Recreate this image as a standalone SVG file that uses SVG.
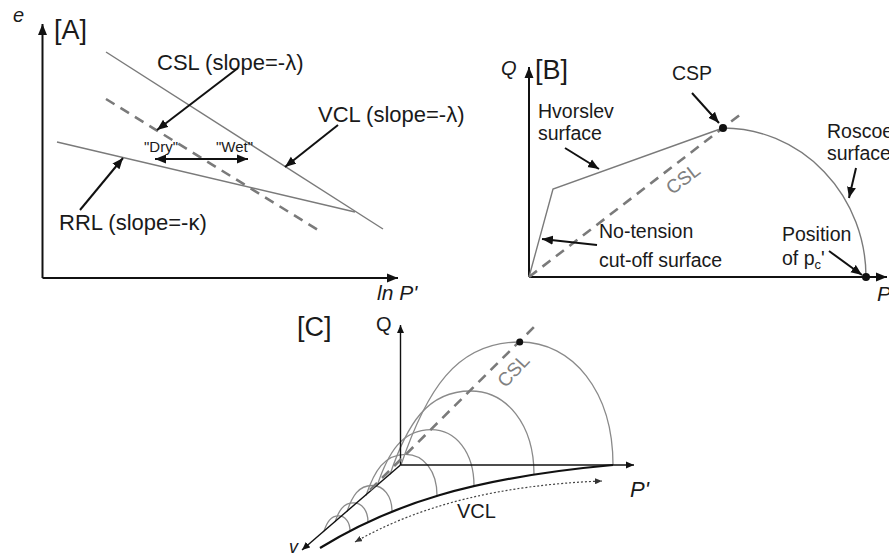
<svg xmlns="http://www.w3.org/2000/svg" width="889" height="557" viewBox="0 0 889 557">
<defs>
<marker id="ah" markerUnits="userSpaceOnUse" markerWidth="12" markerHeight="10" refX="11" refY="5" orient="auto-start-reverse"><path d="M0,0.5 L11,5 L0,9.5 z" fill="#111"/></marker>
<marker id="ahs" markerUnits="userSpaceOnUse" markerWidth="9" markerHeight="8" refX="8" refY="4" orient="auto-start-reverse"><path d="M0,0.5 L8,4 L0,7.5 z" fill="#111"/></marker>
<marker id="ahd" markerUnits="userSpaceOnUse" markerWidth="8" markerHeight="6" refX="7" refY="3" orient="auto-start-reverse"><path d="M0,0 L7,3 L0,6 z" fill="#333"/></marker>
</defs>
<style>
text{font-family:"Liberation Sans",Arial,sans-serif;fill:#1a1a1a}
.it{font-style:italic}
.lbl{font-size:22px}
.lb{font-size:19.5px}
.br{font-size:27px}
.ax{stroke:#111;stroke-width:2;fill:none}
.axc{stroke:#111;stroke-width:1.4;fill:none}
.gl{stroke:#7a7a7a;stroke-width:1.4;fill:none}
.dash{stroke:#7a7a7a;stroke-width:2.6;fill:none;stroke-dasharray:10 7}
.arr{stroke:#111;stroke-width:2;fill:none;marker-end:url(#ah)}
.arc{stroke:#8a8a8a;stroke-width:1.3;fill:none}
.gt{fill:#808080}
</style>

<g id="panelA">
<g id="A-axes">
<line class="ax" x1="42.5" y1="278" x2="42.5" y2="24" marker-end="url(#ah)"/>
<line class="ax" x1="42.5" y1="278" x2="398" y2="278" marker-end="url(#ah)"/>
<text class="it" x="13" y="22" font-size="20">e</text>
<text class="it" x="377" y="300" font-size="21">ln P'</text>
<text class="br" x="54" y="39">[A]</text>
</g>
<g id="A-VCL"><line class="gl" x1="106" y1="52" x2="383" y2="229"/><text class="lbl" x="318" y="122">VCL (slope=-λ)</text></g>
<g id="A-CSL"><line class="dash" x1="106" y1="99" x2="318" y2="230"/><text class="lbl" x="157" y="70">CSL (slope=-λ)</text></g>
<g id="A-RRL"><line class="gl" x1="57" y1="142" x2="355" y2="212"/><text class="lbl" x="59" y="230">RRL (slope=-κ)</text></g>
<g id="A-drywet"><text x="144" y="152" font-size="15">"Dry"</text><text x="216" y="152" font-size="15">"Wet"</text></g>
<g id="A-connectors">
<line class="arr" x1="238" y1="68" x2="157" y2="130"/>
<line class="arr" x1="338" y1="125" x2="285" y2="167"/>
<line class="arr" x1="80" y1="210" x2="123" y2="158"/>
<line class="arr" x1="155" y1="159" x2="248" y2="159" marker-start="url(#ah)"/>
</g>
</g>

<g id="panelB">
<g id="B-axes">
<line class="ax" x1="529" y1="277" x2="529" y2="67" marker-end="url(#ah)"/>
<line class="ax" x1="529" y1="277" x2="887" y2="277" marker-end="url(#ah)"/>
<text class="it" x="501" y="75" font-size="20">Q</text>
<text class="it" x="877" y="301" font-size="21">P</text>
<text class="br" x="535" y="79">[B]</text>
</g>
<g id="B-CSL"><line class="dash" x1="529" y1="277" x2="741" y2="114"/><text class="gt" font-size="19" transform="translate(687,184) rotate(-37.5)" text-anchor="middle">CSL</text></g>
<g id="B-surface">
<polyline class="gl" points="529,277 553,189 723,128"/>
<path class="gl" d="M723,128 A143,149 0 0 1 866,277"/>
<circle cx="723" cy="128" r="4" fill="#111"/>
<circle cx="866" cy="277" r="4" fill="#111"/>
</g>
<g id="B-labels">
<text class="lb" x="672" y="80">CSP</text>
<text class="lb" x="538" y="118">Hvorslev</text>
<text class="lb" x="538" y="140">surface</text>
<text class="lb" x="599" y="238">No-tension</text>
<text class="lb" x="599" y="267">cut-off surface</text>
<text class="lb" x="782" y="241">Position</text>
<text class="lb" x="782" y="265">of p<tspan font-size="13" dy="4">c</tspan><tspan dy="-4">'</tspan></text>
<text class="lb" x="827" y="138">Roscoe</text>
<text class="lb" x="827" y="160">surface</text>
</g>
<g id="B-connectors">
<line class="arr" x1="692" y1="93" x2="719" y2="123"/>
<line class="arr" x1="565" y1="148" x2="599" y2="169"/>
<line class="arr" x1="597" y1="245" x2="542" y2="239"/>
<line class="arr" x1="829" y1="251" x2="862" y2="275"/>
<line class="arr" x1="856" y1="168" x2="849" y2="198"/>
</g>
</g>

<g id="panelC">
<g id="C-surfaces">
<path class="arc" d="M401,465 C426,391.2 455.7,342 519.7,342 C572.7,342 613,391.2 613,465"/>
<path class="arc" d="M390,474.5 C407,424.4 427.1,391 470.6,391 C506.6,391 534,424.4 534,474.5"/>
<path class="arc" d="M377,486 C388.4,452.2 402,429.7 431.3,429.7 C455.6,429.7 474,452.2 474,486"/>
<path class="arc" d="M366,495.5 C374.4,470.8 384.4,454.3 405.8,454.3 C423.5,454.3 437,470.8 437,495.5"/>
<path class="arc" d="M347,511.6 C352.3,495.9 358.6,485.5 372.2,485.5 C383.5,485.5 392,495.9 392,511.6"/>
<path class="arc" d="M335,522 C338.9,510.5 343.5,502.9 353.5,502.9 C361.8,502.9 368,510.5 368,522"/>
<path class="arc" d="M324,531 C327.1,522 330.7,515.9 338.6,515.9 C345.1,515.9 350,522 350,531"/>
</g>
<g id="C-axes">
<line class="axc" x1="400.5" y1="465" x2="400.5" y2="325" marker-end="url(#ahs)"/>
<line class="axc" x1="400.5" y1="465" x2="634" y2="465" marker-end="url(#ahs)"/>
<line class="axc" x1="400.5" y1="465" x2="302" y2="550" marker-end="url(#ahs)"/>
<text x="376" y="331" font-size="20">Q</text>
<text class="it" x="630" y="497" font-size="22">P'</text>
<text class="it" x="289" y="553" font-size="18">v</text>
<text class="br" x="297" y="336">[C]</text>
</g>
<g id="C-CSL"><line class="dash" x1="370" y1="490" x2="535" y2="326"/><text class="gt" font-size="19" transform="translate(518,375) rotate(-47)" text-anchor="middle">CSL</text><circle cx="519.7" cy="342" r="3.5" fill="#111"/></g>
<g id="C-VCL">
<path d="M320,548 C390,505 470,478 613,465" stroke="#111" stroke-width="2.2" fill="none"/>
<path d="M355,542 C420,505 500,485 602,481" stroke="#444" stroke-width="1.2" stroke-dasharray="2 2" fill="none" marker-start="url(#ahd)" marker-end="url(#ahd)"/>
<text x="457" y="518" font-size="20">VCL</text>
</g>
</g>
</svg>
